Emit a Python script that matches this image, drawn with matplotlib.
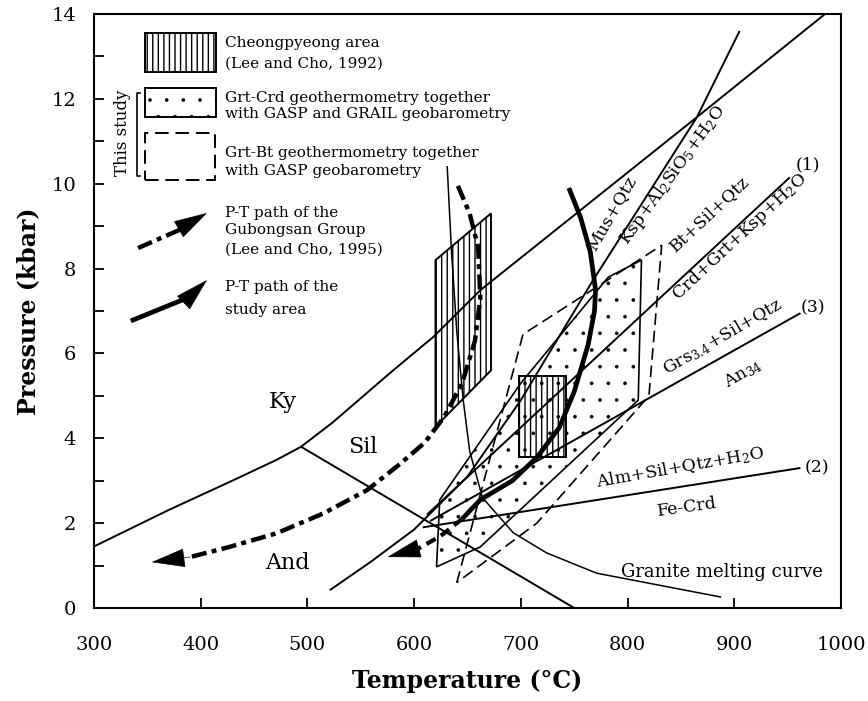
import matplotlib
matplotlib.use('Agg')
import matplotlib.pyplot as plt
from matplotlib.patches import Polygon, Rectangle
from matplotlib.lines import Line2D

plt.rcParams['font.family'] = ['DejaVu Serif']
plt.rcParams['mathtext.fontset'] = 'dejavuserif'
plt.rcParams['hatch.linewidth'] = 1.0

# ---------------- data (T in degC, P in kbar) ----------------
ky_and_T = [300, 370, 427, 471, 494]
ky_and_P = [1.45, 2.31, 2.97, 3.49, 3.80]
ky_sil_T = [494, 524, 577, 618, 662, 865, 985]
ky_sil_P = [3.80, 4.38, 5.53, 6.39, 7.49, 11.57, 14.0]
sil_and_T = [494, 750]
sil_and_P = [3.80, 0.0]

mus_T = [521, 560, 600, 650, 700, 767, 865, 905]
mus_P = [0.42, 1.1, 1.85, 3.1, 4.9, 7.7, 11.57, 13.6]

r1_T = [612, 952]
r1_P = [2.2, 10.15]
r3_T = [615, 962]
r3_P = [2.05, 6.95]
r2_T = [608, 962]
r2_P = [1.9, 3.3]

gran_T = [631, 635, 640, 646, 652, 664, 693, 724, 771, 887]
gran_P = [10.4, 8.4, 6.5, 4.9, 3.7, 2.6, 1.77, 1.3, 0.82, 0.26]

gub_T = [641, 652, 660, 662, 657, 645, 628, 610, 587, 556, 515, 471, 427, 390, 354]
gub_P = [9.95, 9.3, 8.5, 7.3, 6.3, 5.3, 4.5, 3.9, 3.4, 2.78, 2.23, 1.76, 1.44, 1.2, 1.08]

stu_T = [745, 756, 765, 770, 769, 763, 750, 736, 715, 692, 662, 645]
stu_P = [9.9, 9.2, 8.4, 7.5, 7.0, 6.2, 5.1, 4.25, 3.55, 3.0, 2.55, 2.1]
stu_ext_T = [645, 625, 604, 575]
stu_ext_P = [2.1, 1.7, 1.4, 1.2]

cheong_big_T = [620, 620, 672, 672]
cheong_big_P = [4.27, 8.2, 9.3, 5.6]
cheong_small_T = [698, 742]
cheong_small_P = [3.56, 5.47]

grtcrd_T = [621, 624, 700, 782, 813, 810, 662]
grtcrd_P = [0.97, 2.55, 5.3, 7.8, 8.2, 4.9, 1.44]

grtbt_T = [640, 702, 832, 820, 715]
grtbt_P = [0.6, 6.45, 8.55, 5.0, 2.0]

x_ticks = [300, 400, 500, 600, 700, 800, 900, 1000]
y_ticks = [0, 2, 4, 6, 8, 10, 12, 14]

# ---------------- figure ----------------
fig = plt.figure(figsize=(8.68, 7.01), dpi=100)
ax = fig.add_axes([0.1083, 0.1327, 0.8606, 0.8473])
ax.set_xlim(300, 1000)
ax.set_ylim(0, 14)

lw = 1.4
kw = dict(color='black', lw=lw, solid_capstyle='butt')
dash_gub = (0, (3.4, 1.2, 1.1, 1.2))
dash_bt = (0, (7, 3.5))
head = '-|>,head_length=1.6,head_width=0.45'
ta = ax.transAxes

# dotted fields (thin hatch outline -> small dots)
plt.rcParams['hatch.linewidth'] = 0.2
ax.add_patch(Polygon(list(zip(grtcrd_T, grtcrd_P)), closed=True, facecolor='white',
                     edgecolor='black', hatch='.', lw=1.2, zorder=1))
ax.add_patch(Rectangle((0.0683, 0.8266), 0.095, 0.0488, transform=ta, facecolor='white',
                       edgecolor='black', hatch='.', lw=1.4))

# vertical-hatched fields
plt.rcParams['hatch.linewidth'] = 1.0
ax.add_patch(Polygon(list(zip(grtbt_T, grtbt_P)), closed=True, fill=False,
                     edgecolor='black', ls=dash_bt, lw=1.2, zorder=2))
ax.add_patch(Polygon(list(zip(cheong_big_T, cheong_big_P)), closed=True, facecolor='white',
                     edgecolor='black', hatch='|||', lw=1.4, zorder=2))
ax.add_patch(Rectangle((cheong_small_T[0], cheong_small_P[0]),
                       cheong_small_T[1] - cheong_small_T[0],
                       cheong_small_P[1] - cheong_small_P[0],
                       facecolor='none', edgecolor='black', hatch='|||', lw=1.4, zorder=3))
ax.add_patch(Rectangle((0.0683, 0.902), 0.095, 0.066, transform=ta, facecolor='white',
                       edgecolor='black', hatch='|||', lw=1.4))

# reaction lines
for T, P in [(ky_and_T, ky_and_P), (ky_sil_T, ky_sil_P), (sil_and_T, sil_and_P),
             (mus_T, mus_P), (r1_T, r1_P), (r3_T, r3_P), (r2_T, r2_P)]:
    ax.plot(T, P, zorder=4, **kw)
ax.plot(gran_T, gran_P, color='black', lw=1.1, zorder=4)

# P-T paths
ax.plot(gub_T[:-1], gub_P[:-1], color='black', lw=3.2, ls=dash_gub, zorder=5)
ax.annotate('', xy=(gub_T[-1], gub_P[-1]), xytext=(gub_T[-2], gub_P[-2]),
            arrowprops=dict(arrowstyle=head, color='black', lw=0.5, mutation_scale=14,
                            shrinkA=0, shrinkB=0), zorder=6)
ax.plot(stu_T, stu_P, color='black', lw=3.4, zorder=5, solid_capstyle='butt')
ax.plot(stu_ext_T[:-1], stu_ext_P[:-1], color='black', lw=3.0, ls=(0, (2.5, 1.5)), zorder=5)
ax.annotate('', xy=(stu_ext_T[-1], stu_ext_P[-1]), xytext=(stu_ext_T[-2], stu_ext_P[-2]),
            arrowprops=dict(arrowstyle=head, color='black', lw=0.5, mutation_scale=14,
                            shrinkA=0, shrinkB=0), zorder=6)

# field & reaction labels
ax.text(477, 4.86, 'Ky', fontsize=16, ha='center', va='center')
ax.text(552, 3.8, 'Sil', fontsize=16, ha='center', va='center')
ax.text(481, 1.06, 'And', fontsize=16, ha='center', va='center')
rk = dict(fontsize=12.5, ha='center', va='center', rotation_mode='anchor')
ax.text(785, 9.3, 'Mus+Qtz', rotation=60, **rk)
ax.text(842, 10.2, r'Ksp+Al$_2$SiO$_5$+H$_2$O', rotation=54, **rk)
ax.text(877, 9.3, 'Bt+Sil+Qtz', rotation=43, **rk)
ax.text(905, 8.75, r'Crd+Grt+Ksp+H$_2$O', rotation=43, **rk)
ax.text(889, 6.4, r'Grs$_{3.4}$+Sil+Qtz', rotation=30, **rk)
ax.text(908, 5.53, r'An$_{34}$', rotation=30, **rk)
ax.text(849, 3.3, r'Alm+Sil+Qtz+H$_2$O', rotation=10, **rk)
ax.text(856, 2.36, 'Fe-Crd', rotation=8, **rk)
ax.text(969, 10.45, '(1)', fontsize=12.5, ha='center', va='center')
ax.text(974, 7.07, '(3)', fontsize=12.5, ha='center', va='center')
ax.text(977, 3.3, '(2)', fontsize=12.5, ha='center', va='center')
ax.text(888, 0.85, 'Granite melting curve', fontsize=13, ha='center', va='center')

# ---------------- legend (axes fraction) ----------------
ax.add_patch(Rectangle((0.0683, 0.7205), 0.094, 0.079, transform=ta, fill=False,
                       edgecolor='black', ls=dash_bt, lw=1.4))
ax.add_line(Line2D([0.061, 0.057, 0.057, 0.061], [0.867, 0.867, 0.728, 0.728],
                   transform=ta, color='black', lw=1.2))
ax.text(0.0375, 0.80, 'This study', transform=ta, rotation=90, fontsize=12,
        ha='center', va='center')
lk = dict(transform=ta, fontsize=11, ha='left', va='center')
tx = 0.1754
ax.text(tx, 0.951, 'Cheongpyeong area', **lk)
ax.text(tx, 0.916, '(Lee and Cho, 1992)', **lk)
ax.text(tx, 0.858, 'Grt-Crd geothermometry together', **lk)
ax.text(tx, 0.832, 'with GASP and GRAIL geobarometry', **lk)
ax.text(tx, 0.766, 'Grt-Bt geothermometry together', **lk)
ax.text(tx, 0.735, 'with GASP geobarometry', **lk)
ax.text(tx, 0.665, 'P-T path of the', **lk)
ax.text(tx, 0.637, 'Gubongsan Group', **lk)
ax.text(tx, 0.604, '(Lee and Cho, 1995)', **lk)
ax.text(tx, 0.540, 'P-T path of the', **lk)
ax.text(tx, 0.501, 'study area', **lk)
ax.add_line(Line2D([0.059, 0.128], [0.606, 0.644], transform=ta, color='black', lw=3.2,
                   ls=dash_gub))
ax.annotate('', xy=(0.1513, 0.665), xytext=(0.125, 0.646), xycoords=ta,
            arrowprops=dict(arrowstyle=head, color='black', lw=0.5, mutation_scale=14,
                            shrinkA=0, shrinkB=0))
ax.add_line(Line2D([0.0522, 0.13], [0.4848, 0.5246], transform=ta, color='black', lw=3.4))
ax.annotate('', xy=(0.1513, 0.5522), xytext=(0.125, 0.5205), xycoords=ta,
            arrowprops=dict(arrowstyle=head, color='black', lw=0.5, mutation_scale=14,
                            shrinkA=0, shrinkB=0))

# ---------------- axes ----------------
ax.set_xticks(x_ticks)
ax.set_yticks(y_ticks)
ax.set_yticks(range(0, 15), minor=True)
ax.tick_params(axis='both', which='both', direction='in', length=7, width=1.3,
               labelsize=14, top=False, right=False)
ax.tick_params(axis='x', pad=20)
ax.tick_params(axis='y', pad=13)
for s in ax.spines.values():
    s.set_linewidth(1.5)
ax.set_xlabel('Temperature (°C)', fontsize=17, fontweight='bold', labelpad=11)
ax.set_ylabel('Pressure (kbar)', fontsize=17, fontweight='bold', labelpad=8)

fig.savefig('out.png', dpi=100)
